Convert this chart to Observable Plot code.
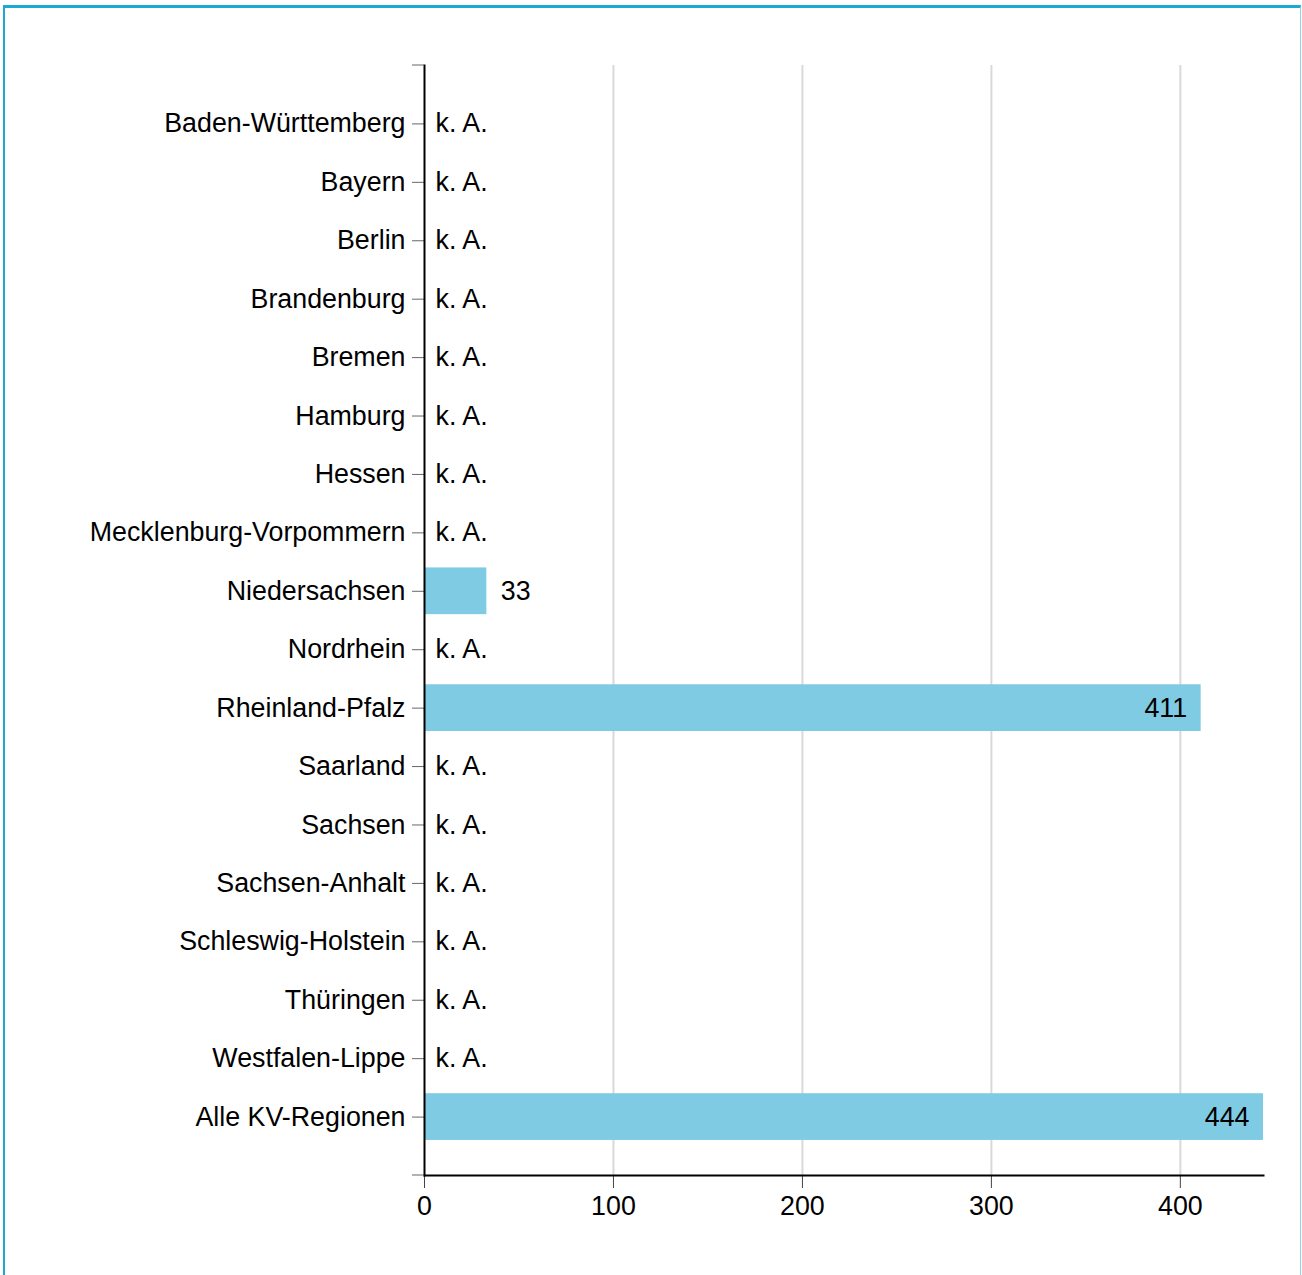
<!DOCTYPE html>
<html>
<head>
<meta charset="utf-8">
<script src="https://cdn.jsdelivr.net/npm/d3@7"></script>
<script src="https://cdn.jsdelivr.net/npm/@observablehq/plot@0.6"></script>
<style>
  html, body { margin: 0; padding: 0; background: #fff; }
  #wrap { position: relative; width: 1302px; height: 1275px; overflow: hidden; }
  #frame { position: absolute; left: 3px; top: 5px; width: 1298px; height: 1280px;
           border-top: 3px solid #1ba9d1; border-left: 2px solid #1ba9d1; border-right: 1px solid #8fd3e8; box-sizing: border-box; }
  #chart { position: absolute; left: 0; top: 0; }
  svg { font-family: "Liberation Sans", Arial, sans-serif; }
</style>
</head>
<body>
<div id="wrap"><div id="frame"></div><div id="chart"></div></div>
<script>
const categories = [
  "Baden-Württemberg", "Bayern", "Berlin", "Brandenburg", "Bremen", "Hamburg", "Hessen",
  "Mecklenburg-Vorpommern", "Niedersachsen", "Nordrhein", "Rheinland-Pfalz", "Saarland",
  "Sachsen", "Sachsen-Anhalt", "Schleswig-Holstein", "Thüringen", "Westfalen-Lippe", "Alle KV-Regionen"
];
const values = [null, null, null, null, null, null, null, null, 33, null, 411, null, null, null, null, null, null, 444];
const xTicks = [0, 100, 200, 300, 400];
const missingLabel = "k. A.";

const data = categories.map((c, i) => ({region: c, value: values[i]}));
const present = data.filter(d => d.value != null);
const missing = data.filter(d => d.value == null);
const inside = present.filter(d => d.value > 100);
const outside = present.filter(d => d.value <= 100);

// extra short ticks at both ends of the y axis
const endTicks = (index, scales, values, dim) => {
  const g = document.createElementNS("http://www.w3.org/2000/svg", "g");
  for (const y of [dim.marginTop, dim.height - dim.marginBottom]) {
    const l = document.createElementNS("http://www.w3.org/2000/svg", "line");
    l.setAttribute("x1", dim.marginLeft - 12);
    l.setAttribute("x2", dim.marginLeft);
    l.setAttribute("y1", y);
    l.setAttribute("y2", y);
    l.setAttribute("stroke", "#666");
    g.appendChild(l);
  }
  return g;
};

const FS = 26.8;
const chart = Plot.plot({
  width: 1302,
  height: 1275,
  marginLeft: 424,
  marginRight: 39,
  marginTop: 65,
  marginBottom: 100,
  style: {fontSize: FS + "px", fontFamily: "'Liberation Sans', Arial, sans-serif", color: "#000", background: "transparent"},
  x: {domain: [0, 444], ticks: xTicks, label: null, round: false},
  y: {domain: categories, paddingInner: 0.2, paddingOuter: 0.6, label: null, round: false},
  marks: [
    Plot.gridX(xTicks.filter(t => t > 0), {stroke: "#d9d9d9", strokeOpacity: 1, strokeWidth: 2}),
    Plot.barX(present, {y: "region", x: "value", fill: "#7fcbe3"}),
    Plot.axisX({ticks: xTicks, tickSize: 13, tickPadding: 7, stroke: "#444", fontSize: FS, tickFormat: d => String(d), fill: "#000"}),
    Plot.axisY({tickSize: 12, tickPadding: 7, stroke: "#666", fontSize: FS, fill: "#000"}),
    Plot.frame({anchor: "left", stroke: "#000", strokeWidth: 2}),
    Plot.frame({anchor: "bottom", stroke: "#000", strokeWidth: 2}),
    endTicks,
    Plot.text(missing, {y: "region", x: 0, text: () => missingLabel, textAnchor: "start", dx: 11, fill: "#000", fontSize: FS}),
    Plot.text(outside, {y: "region", x: "value", text: d => String(d.value), textAnchor: "start", dx: 14, fill: "#000", fontSize: FS}),
    Plot.text(inside, {y: "region", x: "value", text: d => String(d.value), textAnchor: "end", dx: -14, fill: "#000", fontSize: FS})
  ]
});
document.getElementById("chart").appendChild(chart);
</script>
</body>
</html>
